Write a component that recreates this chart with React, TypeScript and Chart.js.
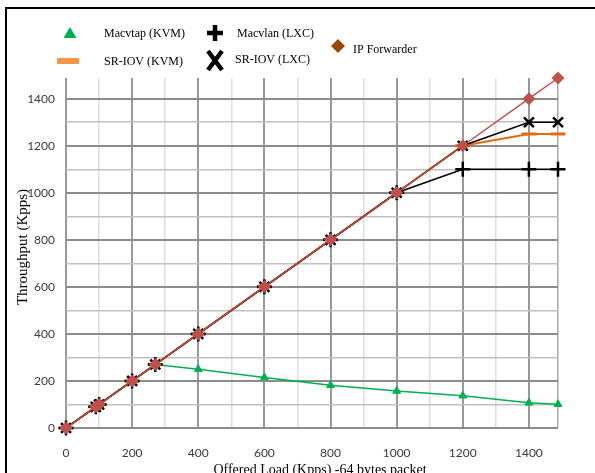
import React, { useEffect, useRef } from 'react';
import { Chart, registerables } from 'chart.js';

Chart.register(...registerables);

// ---- data ----
const offeredLoad = [0, 90, 100, 200, 270, 400, 600, 800, 1000, 1200, 1400, 1488];
const macvtapKVM = [0, 90, 100, 200, 270, 250, 215, 182, 157, 137, 107, 101];
const sriovKVM = [0, 90, 100, 200, 270, 400, 600, 800, 1000, 1200, 1250, 1250];
const macvlanLXC = [0, 90, 100, 200, 270, 400, 600, 800, 1000, 1100, 1100, 1100];
const sriovLXC = [0, 90, 100, 200, 270, 400, 600, 800, 1000, 1200, 1300, 1300];
const ipForwarder = [0, 90, 100, 200, 270, 400, 600, 800, 1000, 1200, 1400, 1488];

const xTickValues = [0, 100, 200, 300, 400, 500, 600, 700, 800, 900, 1000, 1100, 1200, 1300, 1400, 1488];
const xTickLabels = ['0', '', '200', '', '400', '', '600', '', '800', '', '1000', '', '1200', '', '1400', ''];
const yTickValues = [0, 100, 200, 300, 400, 500, 600, 700, 800, 900, 1000, 1100, 1200, 1300, 1400];
const yTickLabels = ['0', '', '200', '', '400', '', '600', '', '800', '', '1000', '', '1200', '', '1400'];

const seriesNames = ['Macvtap (KVM)', 'SR-IOV (KVM)', 'Macvlan (LXC)', 'SR-IOV (LXC)', 'IP Forwarder'];
const xAxisTitle = 'Offered Load (Kpps) -64 bytes packet';
const yAxisTitle = 'Throughput (Kpps)';

const toPoints = (ys: number[]) => ys.map((y, i) => ({ x: offeredLoad[i], y }));

const SERIF = '"Liberation Serif", "Times New Roman", serif';

const overlayPlugin = {
  id: 'overlay',
  afterDraw(chart: any) {
    const ctx = chart.ctx as CanvasRenderingContext2D;
    ctx.save();
    // ---- legend ----
    ctx.font = `12px ${SERIF}`;
    ctx.textAlign = 'left';
    ctx.textBaseline = 'middle';

    // triangle
    ctx.fillStyle = '#00B050';
    ctx.beginPath();
    ctx.moveTo(70, 27);
    ctx.lineTo(76.5, 38);
    ctx.lineTo(63.5, 38);
    ctx.closePath();
    ctx.fill();
    // orange dash
    ctx.fillStyle = '#F79646';
    ctx.fillRect(57, 58, 22, 6);
    // plus
    ctx.strokeStyle = '#000';
    ctx.lineWidth = 4.5;
    ctx.beginPath();
    ctx.moveTo(207, 33); ctx.lineTo(223, 33);
    ctx.moveTo(215, 25); ctx.lineTo(215, 41);
    ctx.stroke();
    // X
    ctx.lineWidth = 4.5;
    ctx.beginPath();
    ctx.moveTo(208, 51); ctx.lineTo(222, 70);
    ctx.moveTo(222, 51); ctx.lineTo(208, 70);
    ctx.stroke();
    // diamond
    ctx.fillStyle = '#984807';
    ctx.beginPath();
    ctx.moveTo(338, 39);
    ctx.lineTo(345, 46);
    ctx.lineTo(338, 53);
    ctx.lineTo(331, 46);
    ctx.closePath();
    ctx.fill();

    ctx.fillStyle = '#000';
    ctx.fillText(seriesNames[0], 104, 34);
    ctx.fillText(seriesNames[1], 104, 62);
    ctx.fillText(seriesNames[2], 237, 34);
    ctx.fillText(seriesNames[3], 235, 60);
    ctx.fillText(seriesNames[4], 353, 50);

    // ---- axis titles ----
    ctx.font = `14px ${SERIF}`;
    ctx.textAlign = 'center';
    ctx.textBaseline = 'alphabetic';
    ctx.fillText(xAxisTitle, 320, 474);

    ctx.font = `15px ${SERIF}`;
    ctx.translate(27, 247);
    ctx.rotate(-Math.PI / 2);
    ctx.fillText(yAxisTitle, 0, 0);
    ctx.restore();
  },
};

export default function App() {
  const canvasRef = useRef<HTMLCanvasElement | null>(null);

  useEffect(() => {
    if (!canvasRef.current) return;
    const tickFont = { family: 'Lato, "Open Sans", sans-serif', size: 12 };
    const chart = new Chart(canvasRef.current, {
      type: 'line',
      data: {
        datasets: [
          {
            label: seriesNames[4],
            data: toPoints(ipForwarder),
            borderColor: '#C0504D',
            borderWidth: 1.5,
            pointStyle: 'rectRot',
            pointRadius: 6.5,
            pointBackgroundColor: '#C0504D',
            pointBorderColor: '#C0504D',
            pointBorderWidth: 0,
          },
          {
            label: seriesNames[3],
            data: toPoints(sriovLXC),
            borderColor: '#000',
            borderWidth: 1.5,
            pointStyle: 'crossRot',
            pointRadius: 7,
            pointBorderColor: '#000',
            pointBorderWidth: 2.5,
          },
          {
            label: seriesNames[2],
            data: toPoints(macvlanLXC),
            borderColor: '#000',
            borderWidth: 1.5,
            pointStyle: 'cross',
            pointRadius: 7.5,
            pointBorderColor: '#000',
            pointBorderWidth: 2.5,
          },
          {
            label: seriesNames[1],
            data: toPoints(sriovKVM),
            borderColor: '#E46C0A',
            borderWidth: 2,
            pointStyle: 'line',
            pointRadius: 7.5,
            pointBorderColor: '#E46C0A',
            pointBorderWidth: 3,
          },
          {
            label: seriesNames[0],
            data: toPoints(macvtapKVM),
            borderColor: '#00B050',
            borderWidth: 1.5,
            pointStyle: 'triangle',
            pointRadius: 4.5,
            pointBackgroundColor: '#00B050',
            pointBorderColor: '#00B050',
            pointBorderWidth: 1,
          },
        ].map((d) => ({ ...d, tension: 0, clip: false as any, fill: false })),
      },
      options: {
        responsive: false,
        animation: false,
        layout: { padding: { left: 0, top: 78, right: 37, bottom: 0 } },
        plugins: { legend: { display: false }, tooltip: { enabled: false } },
        scales: {
          x: {
            type: 'linear',
            min: 0,
            max: 1488,
            afterBuildTicks: (axis: any) => {
              axis.ticks = xTickValues.map((v) => ({ value: v }));
            },
            afterFit: (scale: any) => {
              scale.height = 45;
            },
            ticks: {
              autoSkip: false,
              maxRotation: 0,
              padding: 18,
              color: '#3a3a3a',
              font: tickFont,
              callback: (_v: any, i: number) => xTickLabels[i],
            },
            grid: {
              drawTicks: false,
              color: (c: any) => {
                const v = c.tick?.value;
                if (v === 1488) return '#aaaaaa';
                return v % 200 === 0 ? '#999999' : '#dddddd';
              },
              lineWidth: (c: any) => (c.tick?.value % 200 === 0 ? 2 : 1.5),
            },
            border: { display: false },
          },
          y: {
            type: 'linear',
            min: 0,
            max: 1488,
            afterBuildTicks: (axis: any) => {
              axis.ticks = yTickValues.map((v) => ({ value: v }));
            },
            afterFit: (scale: any) => {
              scale.width = 66;
            },
            ticks: {
              autoSkip: false,
              padding: 11,
              color: '#3a3a3a',
              font: tickFont,
              callback: (_v: any, i: number) => yTickLabels[i],
            },
            grid: {
              drawTicks: false,
              color: (c: any) => (c.tick?.value % 200 === 0 ? '#8c8c8c' : '#c0c0c0'),
              lineWidth: (c: any) => (c.tick?.value % 200 === 0 ? 2 : 1.5),
            },
            border: { display: false },
          },
        },
      },
      plugins: [overlayPlugin],
    } as any);
    return () => chart.destroy();
  }, []);

  return (
    <div
      style={{
        position: 'fixed',
        left: 0,
        top: 0,
        width: 595,
        height: 473,
        overflow: 'hidden',
        background: '#fff',
      }}
    >
      <div
        style={{
          position: 'absolute',
          left: 5,
          top: 7,
          width: 800,
          height: 800,
          borderLeft: '2px solid #000',
          borderTop: '2px solid #000',
        }}
      />
      <canvas
        ref={canvasRef}
        width={595}
        height={473}
        style={{ position: 'absolute', left: 0, top: 0, width: 595, height: 473 }}
      />
    </div>
  );
}
